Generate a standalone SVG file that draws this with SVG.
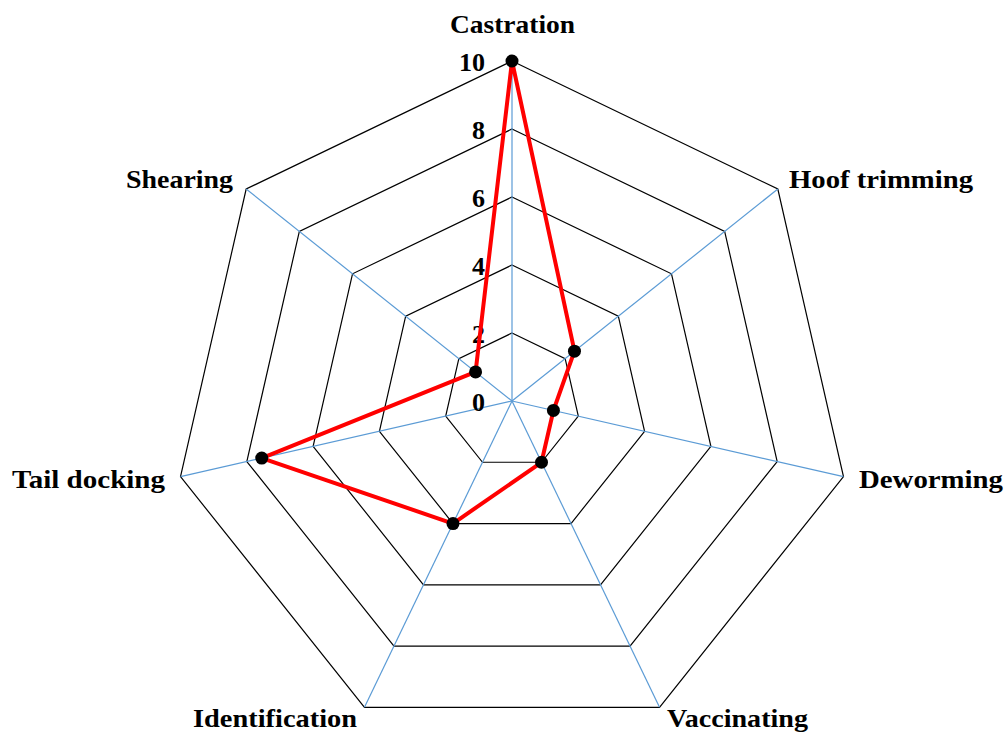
<svg xmlns="http://www.w3.org/2000/svg" width="1007" height="733" viewBox="0 0 1007 733">
<style>
.ring{fill:none;stroke:#000;stroke-width:1.2}
.axis{stroke:#5B9BD5;stroke-width:1.2}
.lbl{font-family:"Liberation Serif","Times New Roman",serif;font-weight:bold;font-size:26px;fill:#000}
.tick{font-family:"Liberation Serif","Times New Roman",serif;font-weight:bold;font-size:26px;fill:#000;text-anchor:end}
.data{fill:none;stroke:#FF0000;stroke-width:4;stroke-linejoin:round}
.pt{fill:#000}
</style>
<rect width="1007" height="733" fill="#fff"/>
<g id="grid">
<polygon class="ring" points="512,333 565.16,358.60 578.30,416.13 541.50,462.27 482.50,462.27 445.70,416.13 458.84,358.60"/>
<polygon class="ring" points="512,265 618.33,316.21 644.59,431.26 571.01,523.53 452.99,523.53 379.41,431.26 405.67,316.21"/>
<polygon class="ring" points="512,197 671.49,273.81 710.89,446.39 600.51,584.80 423.49,584.80 313.11,446.39 352.51,273.81"/>
<polygon class="ring" points="512,129 724.66,231.41 777.18,461.53 630.02,646.06 393.98,646.06 246.82,461.53 299.34,231.41"/>
<polygon class="ring" points="512,61 777.82,189.01 843.48,476.66 659.52,707.33 364.48,707.33 180.52,476.66 246.18,189.01"/>
</g>
<g id="connectors">
<line class="axis" x1="512" y1="401" x2="512" y2="61"/>
<line class="axis" x1="512" y1="401" x2="777.82" y2="189.01"/>
<line class="axis" x1="512" y1="401" x2="843.48" y2="476.66"/>
<line class="axis" x1="512" y1="401" x2="659.52" y2="707.33"/>
<line class="axis" x1="512" y1="401" x2="364.48" y2="707.33"/>
<line class="axis" x1="512" y1="401" x2="180.52" y2="476.66"/>
<line class="axis" x1="512" y1="401" x2="246.18" y2="189.01"/>
</g>
<g id="ticks">
<text class="tick" x="485" y="411">0</text>
<text class="tick" x="485" y="343">2</text>
<text class="tick" x="485" y="275">4</text>
<text class="tick" x="485" y="207">6</text>
<text class="tick" x="485" y="139">8</text>
<text class="tick" x="485" y="71">10</text>
</g>
<g id="series">
<polygon class="data" points="512,61 574.47,351.18 553.43,410.46 541.50,462.27 452.99,523.53 261.74,458.12 475.58,371.96"/>
<circle class="pt" cx="512" cy="61" r="6.5"/>
<circle class="pt" cx="574.47" cy="351.18" r="6.5"/>
<circle class="pt" cx="553.43" cy="410.46" r="6.5"/>
<circle class="pt" cx="541.50" cy="462.27" r="6.5"/>
<circle class="pt" cx="452.99" cy="523.53" r="6.5"/>
<circle class="pt" cx="261.74" cy="458.12" r="6.5"/>
<circle class="pt" cx="475.58" cy="371.96" r="6.5"/>
</g>
<g id="node-castration"><text class="lbl" x="450" y="33" textLength="125" lengthAdjust="spacingAndGlyphs">Castration</text></g>
<g id="node-hoof"><text class="lbl" x="789" y="188" textLength="184" lengthAdjust="spacingAndGlyphs">Hoof trimming</text></g>
<g id="node-deworming"><text class="lbl" x="859" y="488" textLength="144" lengthAdjust="spacingAndGlyphs">Deworming</text></g>
<g id="node-vaccinating"><text class="lbl" x="667" y="727" textLength="141" lengthAdjust="spacingAndGlyphs">Vaccinating</text></g>
<g id="node-identification"><text class="lbl" x="193" y="727" textLength="164" lengthAdjust="spacingAndGlyphs">Identification</text></g>
<g id="node-taildocking"><text class="lbl" x="12" y="488" textLength="153" lengthAdjust="spacingAndGlyphs">Tail docking</text></g>
<g id="node-shearing"><text class="lbl" x="126" y="188" textLength="107" lengthAdjust="spacingAndGlyphs">Shearing</text></g>
</svg>
